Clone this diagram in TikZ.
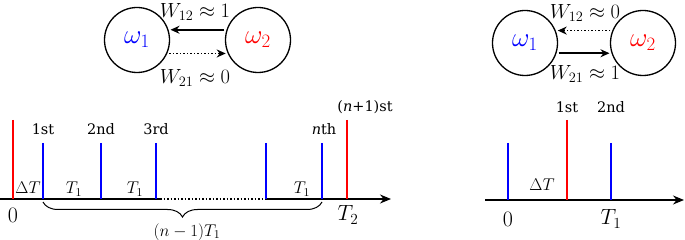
\RequirePackage{fix-cm}
\documentclass[tikz,border=0pt]{standalone}
\usepackage[no-math]{fontspec}
\newfontfamily\dejavu{DejaVu Serif}
\usetikzlibrary{arrows.meta,decorations.pathreplacing}
\begin{document}
\begin{tikzpicture}[x=1pt,y=-1pt,
  state/.style={circle,draw,line width=1.3pt,minimum size=65pt,inner sep=0pt,font=\fontsize{27}{29}\selectfont},
  solidarrow/.style={-{Stealth[length=9pt,width=8pt]},line width=1.5pt,shorten <=2pt,shorten >=2pt},
  dotarrow/.style={solidarrow,dotted},
  wlab/.style={font=\fontsize{20.5}{23}\selectfont,inner sep=0pt},
  axisline/.style={line width=1.5pt},
  spike/.style={line width=1.4pt},
  ordlab/.style={font=\fontsize{14.5}{16}\selectfont\dejavu,inner sep=0pt},
  ticklab/.style={font=\fontsize{22}{24}\selectfont,inner sep=0pt},
  gaplab/.style={font=\fontsize{17}{19}\selectfont,inner sep=0pt},
  bracelab/.style={font=\fontsize{17}{19}\selectfont,inner sep=0pt}]
\useasboundingbox (0,0) rectangle (685,240);

% ---------- left network ----------
\node[state] (L1) at (137,40) {$\color{blue}\omega_1$};
\node[state] (L2) at (258,40) {$\color{red}\omega_2$};
\draw[solidarrow] (L2.162) -- (L1.18);
\draw[dotarrow] (L1.-24) -- (L2.204);
\node[wlab] (Lw12) at (195,12) {$W_{12}\approx 1$};
\node[wlab] (Lw21) at (195,78) {$W_{21}\approx 0$};

% ---------- right network ----------
\node[state] (R1) at (525,43) {$\color{blue}\omega_1$};
\node[state] (R2) at (643,43) {$\color{red}\omega_2$};
\draw[dotarrow] (R2.158) -- (R1.22);
\draw[solidarrow] (R1.-18) -- (R2.198);
\node[wlab] (Rw12) at (585,13) {$W_{12}\approx 0$};
\node[wlab] (Rw21) at (585,74) {$W_{21}\approx 1$};

% ---------- left timeline ----------
\coordinate (LA0) at (0,199);
\coordinate (LA1) at (160,199);
\coordinate (LA2) at (265,199);
\coordinate (LA3) at (391,199);
\draw[axisline] (LA0) -- (LA1);
\draw[axisline,dotted] (LA1) -- (LA2);
\draw[axisline,-{Stealth[length=11pt,width=9pt]}] (LA2) -- (LA3);
\draw[spike,red] (13,120) -- (13,199);
\draw[spike,red] (347,120) -- (347,199);
\foreach \x in {43,101,156,266,322} \draw[spike,blue] (\x,143) -- (\x,199);
\node[ordlab] (o1) at (43,129) {1st};
\node[ordlab] (o2) at (101,129) {2nd};
\node[ordlab] (o3) at (156,129) {3rd};
\node[ordlab] (on) at (324,129) {{\itshape n}th};
\node[ordlab] (on1) at (365,107) {({\itshape n}+1)st};
\node[gaplab] (dT) at (28,188) {$\Delta T$};
\node[gaplab] (t1a) at (74,189) {$T_1$};
\node[gaplab] (t1b) at (135,189) {$T_1$};
\node[gaplab] (t1c) at (302,189) {$T_1$};
\node[ticklab] (z0) at (13,215) {$0$};
\node[ticklab] (tT2) at (348,215) {$T_2$};
\coordinate (B0) at (43,202);
\coordinate (B1) at (322,202);
\draw[line width=1pt,decorate,decoration={brace,mirror,amplitude=15pt}] (B0) -- (B1);
\node[bracelab] (nT) at (187,232) {$(n-1)T_1$};

% ---------- right timeline ----------
\coordinate (RA0) at (485,200);
\coordinate (RA1) at (684,200);
\draw[axisline,-{Stealth[length=11pt,width=9pt]}] (RA0) -- (RA1);
\draw[spike,blue] (508,143) -- (508,200);
\draw[spike,red] (567,120) -- (567,200);
\draw[spike,blue] (611,143) -- (611,200);
\node[ordlab] (r1) at (567,107) {1st};
\node[ordlab] (r2) at (611,107) {2nd};
\node[gaplab] (rdT) at (542,185) {$\Delta T$};
\node[ticklab] (rz) at (508,219) {$0$};
\node[ticklab] (rT1) at (611,219) {$T_1$};
\end{tikzpicture}
\end{document}
